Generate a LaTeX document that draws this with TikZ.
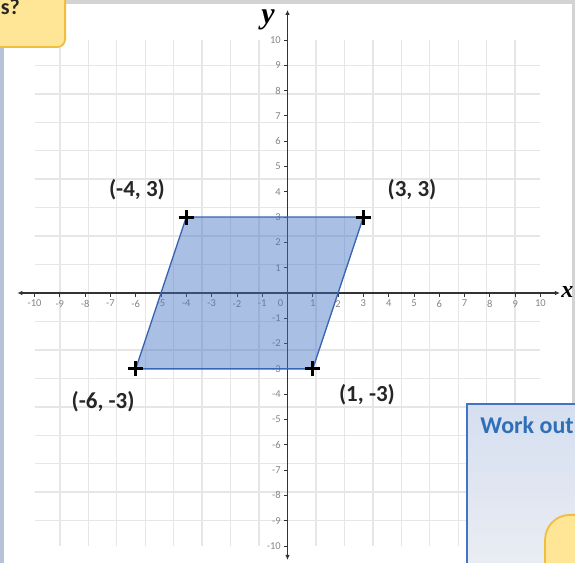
\documentclass[tikz,border=0pt]{standalone}
\usepackage{xcolor}
\usepackage{fontspec}
\setmainfont{Carlito}
\newfontfamily\axisfont{Liberation Serif}
\usepackage{tikz}
\usetikzlibrary{arrows.meta,positioning,calc}

\definecolor{gridgray}{HTML}{E6E6E6}
\definecolor{axisgray}{HTML}{333333}
\definecolor{tickgray}{HTML}{858585}
\definecolor{labelgray}{HTML}{262626}
\definecolor{shapeblue}{HTML}{4472C4}
\definecolor{edgeblue}{HTML}{3A64B5}
\definecolor{framegray}{HTML}{D3D3D3}
\definecolor{stripblue}{HTML}{B7C2D9}
\definecolor{noteyellow}{HTML}{FFE596}
\definecolor{notegold}{HTML}{F2BC3C}
\definecolor{boxtop}{HTML}{D5DFF0}
\definecolor{boxbottom}{HTML}{ECEEF3}
\definecolor{worktext}{HTML}{2E6FB7}

\begin{document}
\begin{tikzpicture}[x=25.3pt, y=25.3pt,
    gridline/.style={draw=gridgray, line width=1.4pt},
    axis/.style={draw=axisgray, line width=1.4pt, {Latex[length=5pt,width=4.5pt]}-{Latex[length=5pt,width=4.5pt]}},
    tickmark/.style={draw=axisgray, line width=0.8pt},
    ticklab/.style={font=\fontsize{10.5}{10.5}\selectfont, text=tickgray, inner sep=1pt},
    ptlabel/.style={font=\fontsize{23}{26}\selectfont\bfseries, text=labelgray, inner sep=0pt},
    axislab/.style={font=\axisfont\fontsize{30}{30}\selectfont\bfseries\itshape, text=black, inner sep=0pt},
    pmark/.style={draw=black, line width=3pt},
    para/.style={fill=shapeblue, fill opacity=0.45, draw=edgeblue, draw opacity=1, line width=1.3pt, line join=round},
    note/.style={draw=notegold, fill=noteyellow, line width=1.8pt, rounded corners=8pt},
    workbox/.style={draw=shapeblue, line width=1.6pt, top color=boxtop, bottom color=boxbottom}
]
    \useasboundingbox (-11.364,-10.672) rectangle (11.364,11.581);

    % slide frame
    \fill[framegray] (-11.364,-10.672) rectangle (11.364,11.581);
    \fill[white] (-11.206,-10.8) rectangle (11.245,11.423);
    \fill[stripblue] (-11.364,-10.8) rectangle (-11.206,11.423);

    % square grid
    \draw[gridline] (-10,-10) grid (10,10);

    % axes
    \coordinate (xl) at (-10.68,0);
    \coordinate (xr) at (10.77,0);
    \coordinate (yb) at (0,-10.55);
    \coordinate (yt) at (0,11.19);
    \draw[axis] (xl) -- (xr);
    \draw[axis] (yb) -- (yt);
    \node[axislab, font=\axisfont\fontsize{24}{24}\selectfont\bfseries\itshape] (xlab) at (11.06,0.04) {x};
    \node[axislab] (ylab) at (-0.77,10.79) {y};

    % ticks and numbers
    \foreach \k in {-10,...,-1,1,2,...,10} {
        \draw[tickmark] (\k,0) -- (\k,-0.14);
        \node[ticklab] at (\k,-0.42) {\k};
        \draw[tickmark] (0,\k) -- (-0.14,\k);
        \node[ticklab, anchor=east] at (-0.22,\k) {\k};
    }
    \node[ticklab] (zero) at (-0.28,-0.42) {0};

    % parallelogram
    \coordinate (A) at (-4,3);
    \coordinate (B) at (3,3);
    \coordinate (C) at (1,-3);
    \coordinate (D) at (-6,-3);
    \draw[para] (A) -- (B) -- (C) -- (D) -- cycle;
    \foreach \p in {A,B,C,D} {
        \draw[pmark] (\p) ++(-7.5pt,0) -- ++(15pt,0);
        \draw[pmark] (\p) ++(0,-7.5pt) -- ++(0,15pt);
    }

    % vertex labels
    \node[ptlabel] (labA) at (-5.95,4.07) {(-4, 3)};
    \node[ptlabel] (labB) at (4.92,4.07) {(3, 3)};
    \node[ptlabel] (labD) at (-7.29,-4.31) {(-6, -3)};
    \node[ptlabel] (labC) at (3.14,-4.03) {(1, -3)};

    % pieces of the slide round the graph
    \draw[note] (-12.5,12.5) rectangle (-8.79,9.72);
    \node[font=\fontsize{22}{22}\selectfont\bfseries, text=labelgray, anchor=base east, inner sep=0pt] (question) at (-10.57,10.99) {s?};
    \draw[workbox] (7.09,-4.39) rectangle (12.5,-11.5);
    \node[font=\fontsize{24}{24}\selectfont\bfseries, text=worktext, anchor=base west, inner sep=0pt] (work) at (7.62,-5.57) {Work out};
    \draw[note, rounded corners=25pt] (10.18,-8.77) rectangle (13.5,-12.5);
\end{tikzpicture}
\end{document}
